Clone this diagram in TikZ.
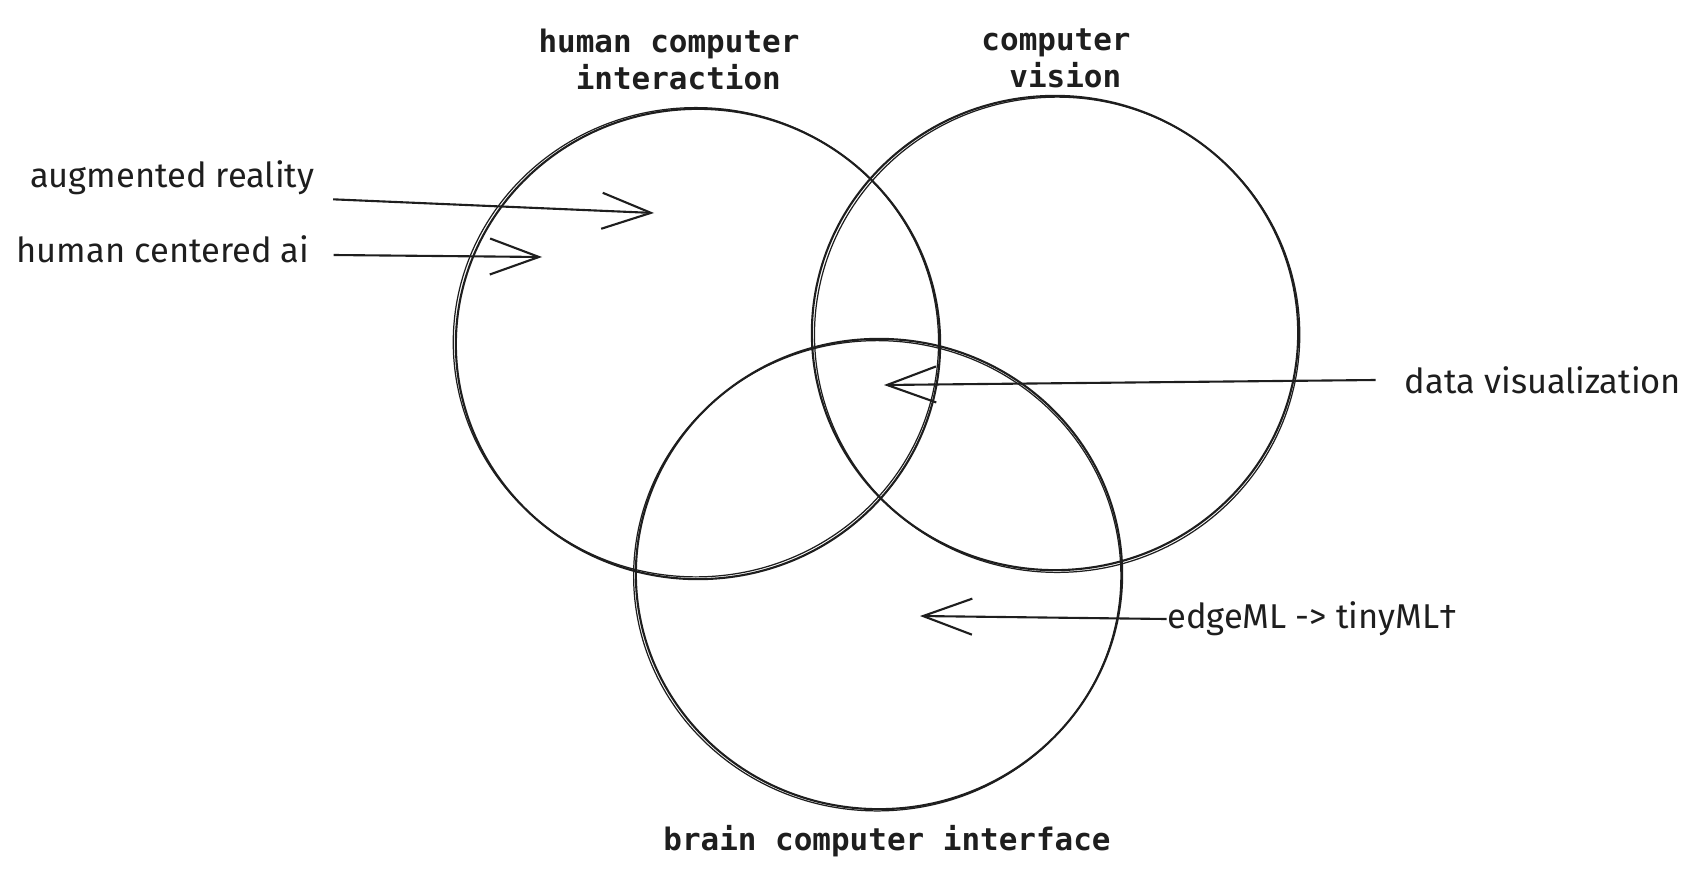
\documentclass[tikz,border=0pt]{standalone}
\usepackage{fontspec}
\setmonofont{DejaVu Sans Mono}
\newfontfamily\handfont{Fira Sans}
\usetikzlibrary{shapes.geometric, arrows.meta, positioning}
\definecolor{ink}{HTML}{1E1E1E}
\tikzstyle{venn} = [ellipse, draw=ink, line width=0.6pt, inner sep=0pt]
\tikzstyle{topic} = [font=\ttfamily\bfseries\fontsize{8.8}{10.5}\selectfont, text=ink, align=center, inner sep=0pt]
\tikzstyle{note} = [font=\handfont\fontsize{9.8}{11}\selectfont, text=ink, inner sep=1pt]
\tikzstyle{arrow} = [draw=ink, line width=0.6pt, -{Straight Barb[length=4.9mm, width=3.6mm]}]
\tikzstyle{sketch} = [draw=ink, line width=0.35pt]

\begin{document}
\begin{tikzpicture}[x=0.01cm, y=-0.01cm]
      \useasboundingbox (0,0) rectangle (1701,876);
      % the three circles
      \node (hci) [venn, minimum width=4.84cm, minimum height=4.70cm] at (698,344) {};
      \node (cv) [venn, minimum width=4.86cm, minimum height=4.74cm] at (1055,333) {};
      \node (bci) [venn, minimum width=4.86cm, minimum height=4.70cm] at (879,574) {};
      \foreach \c/\dx/\dy/\rx/\ry in {hci/-0.6/0.5/2.425cm/2.345cm, cv/0.6/-0.5/2.425cm/2.375cm, bci/-0.5/-0.5/2.435cm/2.35cm}
         \draw [sketch] ([xshift=\dx pt, yshift=\dy pt]\c.center) ellipse [x radius=\rx, y radius=\ry];
      % titles
      \node (hcit) [topic, above=0.17cm of hci, xshift=-0.29cm] {human computer\\\hphantom{x}interaction};
      \node (cvt) [topic, above=0.06cm of cv, xshift=0.01cm] {computer\\\hphantom{x}vision};
      \node (bcit) [topic, below=0.14cm of bci, xshift=0.08cm] {brain computer interface};
      % notes with arrows
      \node (ar) [note] at (172,178) {augmented reality};
      \node (hcai) [note] at (163,249) {human centered ai};
      \node (dv) [note] at (1543,380) {data visualization};
      \node (edge) [note, inner sep=0pt] at (1312,619) {edgeML -> tinyML\textdagger};
      \coordinate (arTip) at (654,213);
      \coordinate (hcaiTip) at (542,257);
      \coordinate (dvTip) at (884,385);
      \coordinate (edgeTip) at (920,616);
      \draw [arrow] ([xshift=0.15cm]ar.south east) -- (arTip);
      \draw [arrow] ([xshift=0.2cm, yshift=-0.06cm]hcai.east) -- (hcaiTip);
      \draw [arrow] ([xshift=-0.25cm]dv.west) -- (dvTip);
      \draw [arrow] (edge.west) -- (edgeTip);
    \end{tikzpicture}
\end{document}
